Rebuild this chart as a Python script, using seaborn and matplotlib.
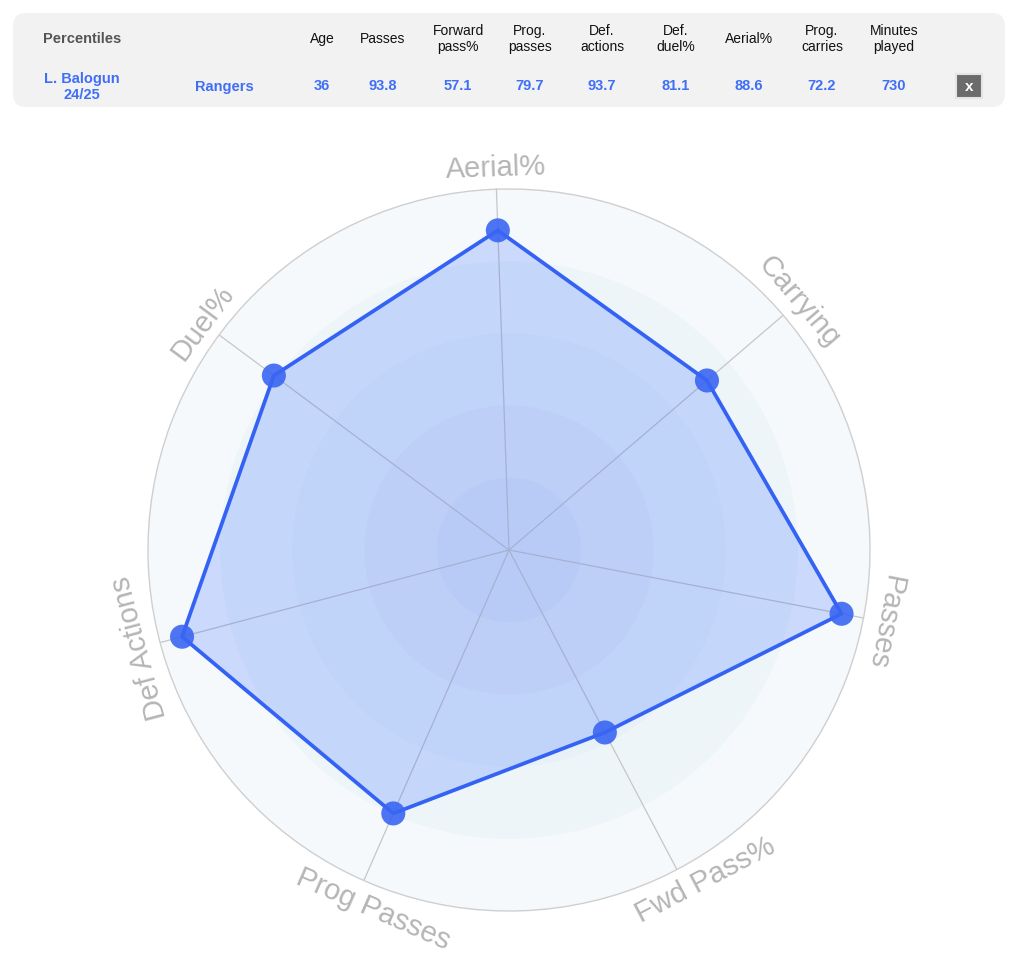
import numpy as np
import pandas as pd
import matplotlib
matplotlib.use("Agg")
import matplotlib.pyplot as plt
from matplotlib.patches import FancyBboxPatch, Rectangle
import seaborn as sns

# ---------------- data ----------------
categories = ["Aerial%", "Carrying", "Passes", "Fwd Pass%", "Prog Passes", "Def Actions", "Duel%"]
values = [88.6, 72.2, 93.8, 57.1, 79.7, 93.7, 81.1]

table_headers = ["Age", "Passes", "Forward\npass%", "Prog.\npasses", "Def.\nactions",
                 "Def.\nduel%", "Aerial%", "Prog.\ncarries", "Minutes\nplayed"]
table_values = ["36", "93.8", "57.1", "79.7", "93.7", "81.1", "88.6", "72.2", "730"]
player_name = "L. Balogun\n24/25"
team_name = "Rangers"
ring_levels = [100, 80, 60, 40, 20]

# ---------------- style ----------------
sns.set_theme(style="white")
plt.rcParams["font.family"] = ["Liberation Sans", "DejaVu Sans"]

W, H = 1024, 966
fig = plt.figure(figsize=(W / 100, H / 100), dpi=100)
fig.patch.set_facecolor("white")

BLUE = "#3462f5"
TXT_BLUE = "#3f6ef7"
ring_colors = ["#f5f9fc", "#edf5f9", "#e8f1f8", "#e3ecf6", "#dde8f4"]

# ---------------- top table ----------------
tab = fig.add_axes([0, 0, 1, 1], zorder=0)
tab.set_xlim(0, W)
tab.set_ylim(H, 0)
tab.axis("off")
tab.add_patch(FancyBboxPatch((13, 13), 992, 94, boxstyle="round,pad=0,rounding_size=13",
                             facecolor="#f2f2f2", edgecolor="none"))
col_x = [322, 383, 458, 530, 602, 676, 749, 822, 894]
tab.text(82, 39, "Percentiles", ha="center", va="center", fontsize=10.5,
         fontweight="bold", color="#555555")
for x, h in zip(col_x, table_headers):
    tab.text(x, 39, h, ha="center", va="center", fontsize=10, color="#111111",
             linespacing=1.2)
tab.text(82, 87, player_name, ha="center", va="center", fontsize=10.5,
         fontweight="bold", color=TXT_BLUE, linespacing=1.25)
tab.text(224, 86.5, team_name, ha="center", va="center", fontsize=10.5,
         fontweight="bold", color=TXT_BLUE)
for x, v in zip(col_x, table_values):
    tab.text(x, 86.5, v, ha="center", va="center", fontsize=10.5,
             fontweight="bold", color=TXT_BLUE)
tab.add_patch(Rectangle((956, 74), 26, 24, facecolor="#6b6b6b", edgecolor="#e4e4e4", lw=1.5))
tab.text(969, 87, "x", ha="center", va="center", fontsize=11, fontweight="bold", color="white")

# ---------------- radar ----------------
cx, cy, R = 509, 550, 361
ax = fig.add_axes([(cx - R) / W, (H - cy - R) / H, 2 * R / W, 2 * R / H],
                  projection="polar", zorder=1)
ax.set_facecolor("none")
ax.set_theta_offset(np.deg2rad(92))
ax.set_theta_direction(-1)
ax.set_ylim(0, 100)
ax.grid(False)
ax.spines["polar"].set_color("#cfcfcf")
ax.spines["polar"].set_linewidth(1.0)

n = len(categories)
angles = np.arange(n) * 2 * np.pi / n

# background rings
for lvl, col in zip(ring_levels, ring_colors):
    ax.bar(0, lvl, width=2 * np.pi, bottom=0, color=col, edgecolor="none", zorder=1)

# spokes
for a in angles:
    ax.plot([a, a], [0, 100], color="#c6c6c6", lw=0.9, zorder=2)

df = pd.DataFrame({"theta": np.append(angles, angles[0]),
                   "r": np.append(values, values[0])})

ax.fill(df["theta"], df["r"], color="#3366ff", alpha=0.216, lw=0, zorder=3)
sns.lineplot(data=df, x="theta", y="r", sort=False, estimator=None, ax=ax,
             color=BLUE, lw=2.7, zorder=4)
sns.scatterplot(data=df.iloc[:-1], x="theta", y="r", ax=ax, s=300, color="#3a66f2",
                alpha=0.9, edgecolor="none", zorder=5)
ax.set_xlabel("")
ax.set_ylabel("")
ax.set_xticks([])
ax.set_yticks([])
ax.set_ylim(0, 100)

# labels
for a, lab in zip(angles, categories):
    phi = 92 - np.rad2deg(a)
    rot = phi - 90
    rot = (rot + 180) % 360 - 180
    ta, rr = a, 105.8
    if abs(rot) > 120:
        rot = rot + 180 if rot < 0 else rot - 180
        ta = a - np.deg2rad(3.0)
        rr = 106.5
    ax.text(ta, rr, lab, rotation=rot, rotation_mode="anchor", ha="center", va="center",
            fontsize=21, color="#b5b5b5", clip_on=False, zorder=6)

fig.savefig("out.png", dpi=100)
